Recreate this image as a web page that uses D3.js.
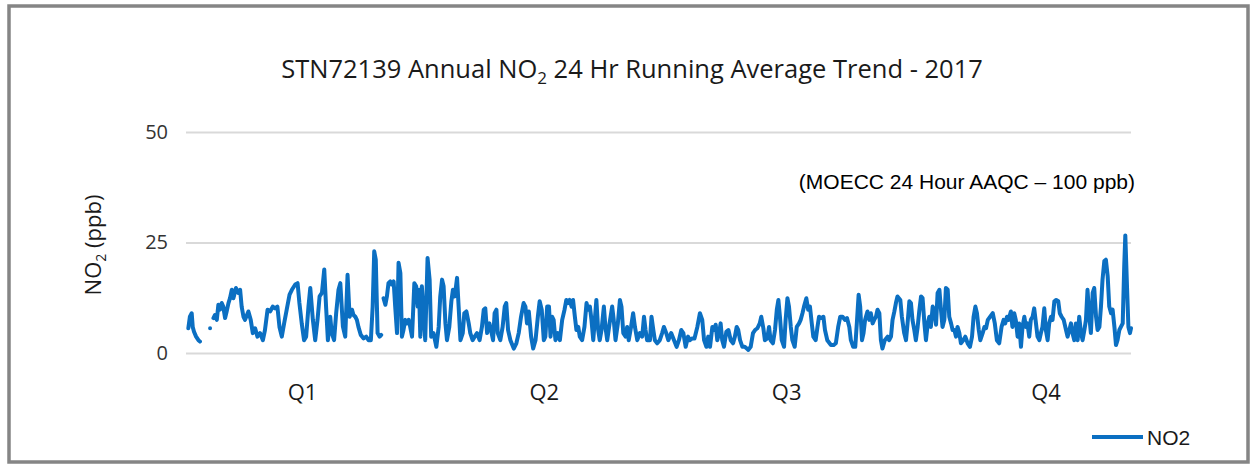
<!DOCTYPE html>
<html>
<head>
<meta charset="utf-8">
<script src="https://cdn.jsdelivr.net/npm/d3@7"></script>
<style>
  body { margin: 0; background: #fff; }
</style>
</head>
<body>
<script>
// Day of year (0-365) and 24 hr running average NO2 (ppb); null = gap in record
var days = [
  0.9, 1.5, 2.2, 2.6, 3.1, 3.9, 4.8, 5.4, 7, 9.3, 10,
  10.6, 11.2, 11.9, 12.5, 13.1, 13.8, 14.4, 15.1, 15.7, 16.4, 17.0, 17.7, 18.3, 19.3, 20.2, 20.9,
  21.5, 22.2, 22.8, 24.1, 25.0, 25.8, 26.7, 27.6, 28.6, 29.7, 30.5, 31.5, 32.5, 33.5, 34.4, 35.3,
  36.1, 37.0, 37.9, 38.9, 40.0, 40.9, 42.2, 43.1, 43.8, 44.7, 45.6, 46.4, 47.3, 48.0, 49.0, 49.9,
  50.8, 51.6, 52.5, 53.4, 54.1, 54.8, 55.7, 56.3, 57.2, 58.0, 58.9, 59.6, 60.6, 61.5,
  62.4, 63.2, 64.1, 64.7, 65.4, 66.0, 66.6, 67.5, 68.6, 69.6, 70.5, 71.4, 72.1, 72.7, 73.3, 74.0,
  74.8, 75.4, 75.8,
  76.3, 77.0, 77.6, 78.2, 78.9, 79.5, 80.2, 80.8, 81.5, 82.1, 82.8, 83.4, 84.0, 84.7, 85.3, 86.0,
  86.6, 87.3, 88.2, 88.9, 89.5, 90.0, 90.5, 91.1, 91.8, 92.4, 93.3, 94.1, 94.7, 95.6, 96.7, 97.6,
  98.2, 98.9, 99.5, 100.2, 100.8, 101.7, 102.5, 103.1, 103.8, 104.7, 105.3, 106.0, 106.9, 107.5,
  108.3, 109.2, 109.8, 110.7, 111.5, 112.4, 113.4, 114.3, 115.0, 115.6, 116.3, 117.2, 117.8, 118.6,
  119.2, 119.9, 120.4, 121.4, 122.3, 123.1, 123.7, 124.4, 125.3,
  126.6, 127.6, 128.5, 129.4, 130.4, 131.1, 131.7, 132.4, 133.3, 134.1, 135.0, 135.9, 136.6, 137.4,
  138.2, 138.8, 139.5, 140.2, 140.8, 141.4, 142.0, 142.7, 143.6, 144.4, 145.3, 146.2, 146.9, 147.6,
  148.2, 148.9, 149.5, 150.2, 150.8, 151.5, 152.1, 153.0, 153.9, 154.7, 155.3, 156.0, 156.6, 157.3,
  157.9, 158.5, 159.2, 159.8, 160.5, 161.4, 162.0, 162.7, 163.6, 164.6, 165.2, 165.9, 166.8, 167.6,
  168.2, 168.9, 169.8, 170.4, 171.0, 171.9, 172.7, 173.4, 174.3, 175.3, 176.2, 176.9, 177.5, 178.1,
  179.2, 179.8, 180.5, 181.1, 182.0, 183.0, 183.9, 184.6, 185.5, 186.3,
  187.4, 188.5, 189.5, 190.4, 191.3, 192.1, 193.0, 193.9, 194.6, 195.5, 196.4, 197.5, 198.5, 199.4,
  200.1, 201.0, 201.7, 202.4, 203.3, 203.9, 204.6, 205.2, 205.9, 206.5, 207.1, 207.8, 208.7, 209.5,
  210.4, 211.3, 212.0, 212.7, 213.3, 214.0, 214.9, 215.8, 216.6, 217.2, 218.1, 219.0, 219.8, 220.7,
  221.6, 222.2, 223.0, 223.6, 224.5, 225.2, 225.8, 226.7, 227.5, 228.2, 228.8, 229.4, 230.1, 231.0,
  231.6, 232.3, 232.9, 233.6, 234.2, 235.1, 235.9, 236.8, 237.4, 238.1, 238.7, 239.6, 240.3, 241.0,
  241.7, 242.3, 243.2, 243.9, 244.5, 245.4, 246.2, 246.8, 247.7,
  249.1, 250.1, 251.0, 251.9, 252.7, 253.6, 254.5, 255.3, 256.2, 256.8, 257.7, 258.5, 259.1, 259.8,
  260.4, 261.1, 261.7, 262.3, 263.2, 263.9, 264.5, 265.2, 265.8, 266.5, 267.1, 267.8, 268.4, 269.0,
  269.9, 271.0, 271.6, 272.3, 272.9, 273.6, 274.2, 274.8, 275.9, 276.5, 277.4, 278.1, 278.7, 279.4,
  280.0, 280.6, 281.3, 281.9, 282.6, 283.2, 283.9, 284.5, 285.2, 285.8, 286.5, 287.1, 287.7, 288.4,
  289.0, 289.7, 290.3, 291.0, 291.6, 292.2, 292.9, 293.5, 294.2, 294.8, 295.5, 296.1, 296.8, 297.4,
  298.0, 298.7, 299.3, 300.2, 301.0, 301.9, 302.8, 303.6, 304.2, 304.9, 305.5, 306.2, 306.8, 307.7,
  308.4, 309.0, 309.7, 310.6,
  311.6, 312.4, 313.2, 314.1, 315.0, 315.8, 316.4, 317.1, 317.7, 318.6, 319.2, 319.9, 320.5, 321.2,
  321.8, 322.5, 323.1, 323.8, 324.4, 325.0, 325.7, 326.3, 327.0, 327.6, 328.3, 328.9, 329.6, 330.2,
  330.8, 331.5, 332.1, 332.8, 333.4, 334.1, 334.7, 335.4, 336.1, 336.9, 337.5, 338.2, 339.0, 339.9,
  340.5, 341.2, 341.8, 342.4, 343.1, 343.7, 344.4, 345.0, 345.7, 346.3, 347.0, 347.6, 348.2, 348.9,
  349.5, 350.2, 350.8, 351.5, 352.1, 352.8, 353.4, 354.0, 354.7, 355.3, 356.0, 356.6, 357.3, 357.9,
  358.6, 359.2, 359.8, 360.5, 361.1, 361.8, 362.4, 362.8, 363.5, 364.0, 364.6, 365.0
];
var no2 = [
  5.6, 8.2, 9.0, 5.9, 4.8, 3.7, 2.9, 2.6, null, 5.6, null,
  7.9, 8.6, 7.5, 10.9, 9.8, 11.3, 10.5, 7.9, 9.4, 11.3, 12.4, 14.3, 12.4, 14.7, 13.6, 14.3,
  10.5, 8.2, 7.5, 9.4, 7.5, 4.5, 5.6, 3.7, 4.5, 2.9, 5.2, 9.8, 9.4, 10.5, 10.1, 10.5,
  5.9, 3.7, 6.7, 9.8, 13.2, 14.3, 15.5, 15.8, 11.3, 6.7, 2.9, 3.7, 10.5, 14.7, 7.5, 2.9,
  7.5, 12.8, 13.6, 18.9, 10.5, 2.9, 8.2, 4.5, 2.9, 9.0, 14.3, 15.8, 6.0, 3.7,
  17.7, 8.2, 9.8, 8.6, 8.2, 7.5, 5.9, 4.1, 3.3, 3.7, 2.9, 2.9, 10.5, 23.0, 21.1, 4.5,
  3.7, 4.1, null,
  12.4, 10.9, 12.8, 15.8, 16.2, 15.5, 16.2, 10.5, 4.5, 20.4, 18.1, 3.7, 5.2, 7.5, 6.7, 7.5,
  5.9, 3.7, 15.8, 15.1, 10.5, 14.3, 3.7, 15.1, 8.2, 2.9, 21.5, 16.6, 3.7, 4.5, 1.4, 5.9,
  12.8, 16.6, 15.1, 6.7, 2.9, 5.9, 11.7, 14.3, 12.8, 17.0, 10.5, 2.9, 4.5, 9.0,
  9.4, 6.7, 4.5, 2.9, 3.7, 4.5, 2.9, 5.9, 9.8, 10.1, 4.5, 6.7, 5.2, 2.9,
  9.0, 9.8, 4.5, 2.9, 5.9, 10.5, 11.3, 5.2, 2.9,
  1.0, 2.2, 4.5, 8.2, 11.3, 10.5, 6.7, 9.4, 3.7, 1.0, 2.9, 8.2, 11.7, 9.8,
  2.9, 3.7, 10.5, 10.5, 3.7, 8.2, 7.5, 2.9, 4.5, 2.9, 7.5, 9.8, 12.0, 11.3,
  12.0, 10.5, 12.0, 8.2, 5.2, 5.9, 3.7, 2.9, 5.9, 11.3, 9.8, 10.5, 7.5, 2.9,
  7.5, 12.0, 5.2, 2.9, 5.2, 10.5, 5.9, 2.9, 6.7, 10.5, 7.5, 2.9, 6.7, 12.0,
  10.5, 4.5, 3.7, 5.9, 2.9, 5.9, 9.0, 5.9, 2.9, 4.5, 3.7, 8.2, 5.2, 2.9,
  2.9, 8.2, 5.2, 2.9, 2.2, 2.9, 4.5, 5.9, 4.5, 2.9,
  4.5, 2.9, 1.4, 2.9, 5.2, 4.5, 1.4, 3.7, 2.9, 3.3, 3.3, 5.9, 9.0, 7.5,
  2.9, 1.4, 3.7, 1.4, 5.9, 5.2, 6.4, 2.9, 4.5, 6.7, 2.9, 1.4, 4.8, 5.2,
  2.9, 2.2, 3.7, 5.9, 5.2, 2.9, 1.4, 1.4, 1.0, 0.7, 1.4, 4.5, 5.2, 5.6,
  6.7, 8.2, 5.6, 2.9, 3.3, 5.9, 2.9, 2.2, 5.2, 9.8, 12.0, 8.2, 2.9, 1.4,
  7.5, 12.4, 10.5, 5.9, 2.9, 1.4, 5.9, 6.7, 7.5, 9.0, 10.5, 12.4, 9.8, 10.5,
  6.7, 3.7, 2.9, 5.9, 8.2, 7.9, 8.2, 5.2, 2.9,
  1.8, 1.8, 2.2, 5.9, 8.2, 8.2, 7.5, 7.9, 5.9, 2.9, 1.4, 1.4, 6.7, 13.2,
  10.5, 2.9, 4.5, 7.5, 9.4, 7.5, 9.0, 6.7, 7.5, 8.2, 9.8, 9.0, 2.9, 1.0,
  2.9, 3.7, 2.9, 3.7, 7.5, 9.4, 11.3, 12.8, 12.0, 8.2, 4.5, 2.9, 6.7, 11.7,
  11.3, 7.5, 5.2, 2.9, 5.9, 9.4, 12.8, 12.4, 6.7, 2.9, 6.7, 8.2, 5.9, 10.5,
  9.8, 6.4, 13.6, 14.3, 9.8, 5.9, 7.5, 14.7, 14.3, 8.2, 6.7, 5.2, 5.2, 3.7,
  5.9, 4.5, 2.2, 2.9, 3.7, 2.2, 1.4, 3.7, 8.2, 10.5, 9.0, 5.2, 2.9, 4.5,
  5.9, 5.6, 7.5, 8.2,
  9.0, 6.7, 2.9, 2.2, 5.9, 7.5, 6.7, 8.2, 7.5, 9.4, 5.9, 9.0, 7.5, 3.7,
  6.7, 1.4, 5.9, 8.2, 5.9, 6.7, 3.7, 7.5, 8.2, 10.1, 6.7, 3.7, 2.9, 4.5,
  5.9, 10.1, 5.2, 2.9, 6.7, 8.2, 7.5, 11.7, 12.0, 11.7, 9.0, 8.2, 7.5, 5.2,
  3.7, 5.2, 6.7, 4.5, 2.9, 6.7, 2.9, 8.2, 4.5, 2.9, 5.2, 7.5, 14.3, 8.2,
  4.5, 13.6, 14.7, 8.2, 5.2, 5.9, 10.5, 16.6, 20.8, 21.1, 17.3, 10.5, 9.0, 9.8,
  5.9, 1.8, 2.9, 5.2, 5.9, 6.7, 20.0, 26.6, 14.3, 5.9, 4.5, 5.6
];
var yTicks = [0, 25, 50];
var quarters = ["Q1", "Q2", "Q3", "Q4"];
var quarterDays = [45, 138.4, 232, 332.2];

// Setup the svg element size and plot area
var width = 1256, height = 469;
var plot = {left: 186, right: 1131, top: 132, bottom: 353};
var sans = "'Open Sans', sans-serif";
var arial = "'Liberation Sans', Arial, sans-serif";

var svg = d3.select(document.body).append("svg")
  .attr("width", width)
  .attr("height", height)
  .style("font-family", sans);

// chart frame
svg.append("rect")
  .attr("x", 9).attr("y", 6)
  .attr("width", 1239).attr("height", 456)
  .attr("fill", "#fff")
  .attr("stroke", "#858585")
  .attr("stroke-width", 3.5);

var x = d3.scaleLinear().domain([0, 365]).range([plot.left, plot.right]);
var y = d3.scaleLinear().domain([0, 50]).range([plot.bottom, plot.top]);

// title with subscript
var title = svg.append("text")
  .attr("x", 632).attr("y", 78)
  .attr("text-anchor", "middle")
  .attr("font-size", 25.5)
  .attr("fill", "#1a1a1a");
title.append("tspan").text("STN72139 Annual NO");
title.append("tspan").attr("font-size", 17).attr("dy", 6).text("2");
title.append("tspan").attr("dy", -6).text(" 24 Hr Running Average Trend - 2017");

// y gridlines + labels
var yAxis = svg.append("g")
  .attr("transform", "translate(" + plot.left + ",0)")
  .call(d3.axisLeft(y).tickValues(yTicks).tickSize(-(plot.right - plot.left)).tickPadding(18));
yAxis.select(".domain").remove();
yAxis.selectAll(".tick line").attr("stroke", "#d9d9d9").attr("stroke-width", 2);
yAxis.selectAll(".tick text")
  .style("font-family", sans)
  .attr("font-size", 20)
  .attr("fill", "#333");

// y axis title
var yTitle = svg.append("text")
  .attr("transform", "translate(101,245) rotate(-90)")
  .attr("text-anchor", "middle")
  .attr("font-size", 22)
  .attr("fill", "#1a1a1a");
yTitle.append("tspan").text("NO");
yTitle.append("tspan").attr("font-size", 14).attr("dy", 5).text("2");
yTitle.append("tspan").attr("dy", -5).text(" (ppb)");

// quarter labels along the bottom
svg.append("g").selectAll("text")
  .data(quarters)
  .enter().append("text")
  .attr("x", function(d, i) { return x(quarterDays[i]); })
  .attr("y", 400)
  .attr("text-anchor", "middle")
  .attr("font-size", 22)
  .attr("fill", "#1a1a1a")
  .text(function(d) { return d; });

// guideline note
svg.append("text")
  .attr("x", 1135).attr("y", 189)
  .attr("text-anchor", "end")
  .style("font-family", arial)
  .attr("font-size", 21)
  .attr("fill", "#000")
  .text("(MOECC 24 Hour AAQC \u2013 100 ppb)");

// NO2 line, broken where data is missing
var series = days.map(function(d, i) { return {day: d, value: no2[i]}; });
var line = d3.line()
  .defined(function(d) { return d.value !== null; })
  .x(function(d) { return x(d.day); })
  .y(function(d) { return y(d.value); });

svg.append("path")
  .datum(series)
  .attr("d", line)
  .attr("fill", "none")
  .attr("stroke", "#0b6fc2")
  .attr("stroke-width", 4)
  .attr("stroke-linejoin", "round")
  .attr("stroke-linecap", "round");

// legend
var legend = svg.append("g").attr("transform", "translate(1092,437)");
legend.append("line")
  .attr("x1", 0).attr("x2", 51)
  .attr("stroke", "#0b6fc2")
  .attr("stroke-width", 4);
legend.append("text")
  .attr("x", 55).attr("y", 8)
  .style("font-family", arial)
  .attr("font-size", 21)
  .attr("fill", "#1a1a1a")
  .text("NO2");
</script>
</body>
</html>
